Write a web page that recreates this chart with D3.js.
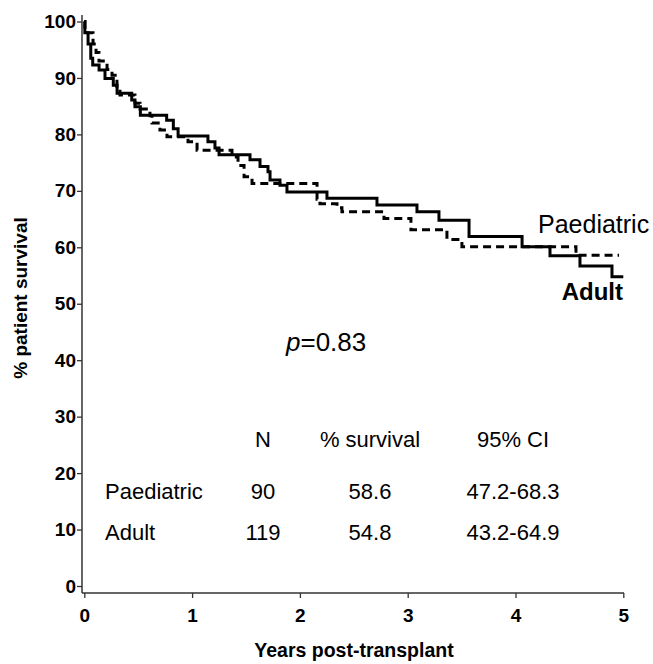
<!DOCTYPE html>
<html>
<head>
<meta charset="utf-8">
<script src="https://cdn.jsdelivr.net/npm/d3@7"></script>
<style>
  body { margin: 0; background: #fff; }
  svg text { font-family: Arial, "Liberation Sans", sans-serif; fill: #000; }
</style>
</head>
<body>
<div id="chart"></div>
<script>
// survival steps, years post-transplant vs % surviving
const adultYears = [0, 0.005, 0.035, 0.06, 0.078, 0.137, 0.192, 0.269, 0.304, 0.44, 0.47, 0.52, 0.764, 0.826, 0.87,
  1.147, 1.212, 1.25, 1.537, 1.63, 1.704, 1.723, 1.815, 1.88, 2.251, 2.715, 3.086, 3.29, 3.569, 4.061, 4.32, 4.598, 4.895, 5.0];
const adultSurv = [100, 98, 96, 93.5, 92.3, 91.4, 89.9, 88.7, 87.3, 86.1, 84.9, 83.4, 82.5, 81.0, 79.7,
  78.7, 77.6, 76.4, 75.5, 74.3, 73.4, 71.9, 71.0, 69.8, 68.7, 67.5, 66.3, 64.8, 61.9, 60.1, 58.5, 56.7, 54.8, 54.8];

const paedYears = [0, 0.006, 0.081, 0.109, 0.136, 0.211, 0.257, 0.303, 0.331, 0.47, 0.517, 0.609, 0.628, 0.702, 0.767,
  0.962, 1.046, 1.37, 1.426, 1.482, 1.556, 2.159, 2.186, 2.344, 2.39, 2.78, 3.03, 3.364, 3.503, 4.561, 4.96];
const paedSurv = [100, 98, 96, 94.5, 93, 91.5, 90.5, 88.5, 87, 85.5, 84.5, 83.3, 82, 80.8, 79.6,
  78.7, 77.2, 76, 74.5, 72.5, 71.3, 68.5, 67.7, 67, 66.3, 65.1, 63.1, 61.4, 60.1, 58.6, 58.6];

const xTicks = [0, 1, 2, 3, 4, 5];
const yTicks = [0, 10, 20, 30, 40, 50, 60, 70, 80, 90, 100];

// summary table
const tableHead = ['N', '% survival', '95% CI'];
const tableGroups = ['Paediatric', 'Adult'];
const tableN = ['90', '119'];
const tableSurv = ['58.6', '54.8'];
const tableCI = ['47.2-68.3', '43.2-64.9'];

const width = 653, height = 664;

const svg = d3.select('#chart').append('svg')
  .attr('width', width)
  .attr('height', height);

const x = d3.scaleLinear().domain([0, 5]).range([84.3, 623.3]);
const y = d3.scaleLinear().domain([0, 100]).range([586, 21.5]);

const axisX0 = 82, axisY0 = 593;

// axes
const yAxis = svg.append('g')
  .attr('transform', 'translate(' + axisX0 + ',0)')
  .call(d3.axisLeft(y).tickValues(yTicks).tickSize(5).tickSizeOuter(0));
yAxis.select('.domain').remove();
yAxis.selectAll('line').attr('stroke', '#333').attr('stroke-width', 1.3);
yAxis.selectAll('text')
  .attr('x', -6)
  .style('font-size', '19px')
  .style('font-weight', 'bold');

const xAxis = svg.append('g')
  .attr('transform', 'translate(0,' + axisY0 + ')')
  .call(d3.axisBottom(x).tickValues(xTicks).tickFormat(d3.format('d')).tickSize(5).tickSizeOuter(0));
xAxis.select('.domain').remove();
xAxis.selectAll('line').attr('stroke', '#333').attr('stroke-width', 1.3);
xAxis.selectAll('text')
  .attr('y', 16)
  .style('font-size', '19px')
  .style('font-weight', 'bold');

svg.append('line')
  .attr('x1', axisX0).attr('x2', axisX0)
  .attr('y1', 15).attr('y2', axisY0)
  .attr('stroke', '#333').attr('stroke-width', 1.5);
svg.append('line')
  .attr('x1', axisX0).attr('x2', x(5) + 0.7)
  .attr('y1', axisY0).attr('y2', axisY0)
  .attr('stroke', '#333').attr('stroke-width', 1.5);

// axis titles
svg.append('text')
  .attr('x', 354).attr('y', 657)
  .attr('text-anchor', 'middle')
  .style('font-size', '19.5px').style('font-weight', 'bold')
  .text('Years post-transplant');

svg.append('text')
  .attr('transform', 'translate(27,298) rotate(-90)')
  .attr('text-anchor', 'middle')
  .style('font-size', '19px').style('font-weight', 'bold')
  .text('% patient survival');

// step curves
const step = d3.line()
  .x(d => x(d[0]))
  .y(d => y(d[1]))
  .curve(d3.curveStepAfter);

svg.append('path')
  .datum(paedYears.map((t, i) => [t, paedSurv[i]]))
  .attr('d', step)
  .attr('fill', 'none')
  .attr('stroke', '#000')
  .attr('stroke-width', 3)
  .attr('stroke-dasharray', '8,5');

svg.append('path')
  .datum(adultYears.map((t, i) => [t, adultSurv[i]]))
  .attr('d', step)
  .attr('fill', 'none')
  .attr('stroke', '#000')
  .attr('stroke-width', 3);

// curve labels
svg.append('text')
  .attr('x', 538).attr('y', 233)
  .style('font-size', '25px')
  .text('Paediatric');
svg.append('text')
  .attr('x', 623).attr('y', 300)
  .attr('text-anchor', 'end')
  .style('font-size', '24px').style('font-weight', 'bold')
  .text('Adult');

// p value
const pText = svg.append('text')
  .attr('x', 286).attr('y', 351)
  .style('font-size', '26px');
pText.append('tspan').style('font-style', 'italic').text('p');
pText.append('tspan').text('=0.83');

// table
const colX = [263, 370, 513];
const rowY = [499, 540];
const tbl = svg.append('g').style('font-size', '22px');

tbl.selectAll('.head')
  .data(tableHead)
  .join('text')
  .attr('x', (d, i) => colX[i])
  .attr('y', 447)
  .attr('text-anchor', 'middle')
  .text(d => d);

tableGroups.forEach((g, r) => {
  tbl.append('text').attr('x', 105).attr('y', rowY[r]).text(g);
  [tableN[r], tableSurv[r], tableCI[r]].forEach((v, c) => {
    tbl.append('text')
      .attr('x', colX[c]).attr('y', rowY[r])
      .attr('text-anchor', 'middle')
      .text(v);
  });
});
</script>
</body>
</html>
